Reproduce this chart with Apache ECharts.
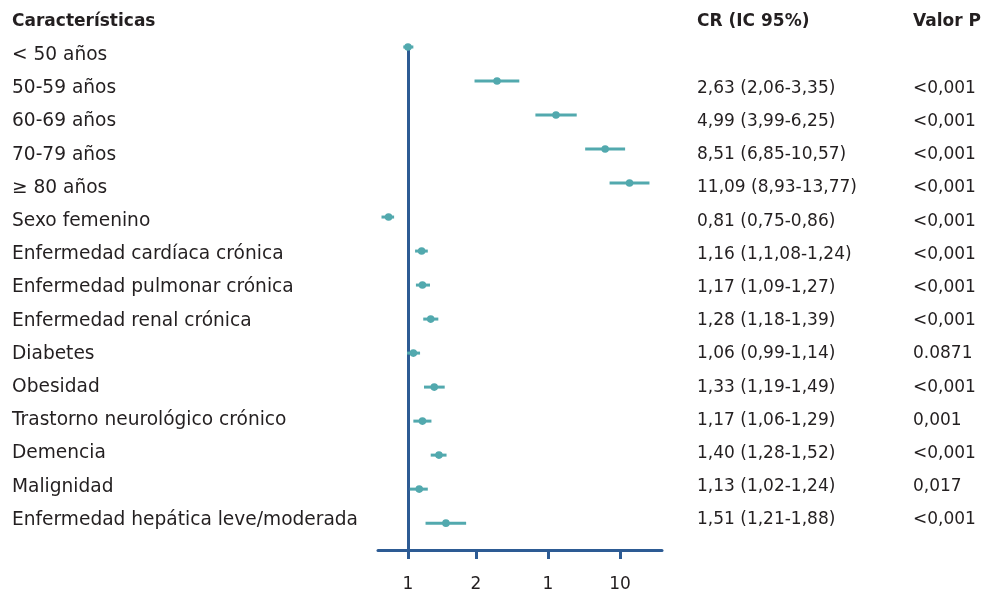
<!DOCTYPE html>
<html><head><meta charset="utf-8">
<script src="https://cdn.jsdelivr.net/npm/echarts@6/dist/echarts.min.js"></script>
<style>html,body{margin:0;padding:0;background:#fff}#c{width:984px;height:589px}</style>
</head><body><div id="c"></div>
<script>
const categories = ['< 50 años','50-59 años','60-69 años','70-79 años','≥ 80 años','Sexo femenino','Enfermedad cardíaca crónica','Enfermedad pulmonar crónica','Enfermedad renal crónica','Diabetes','Obesidad','Trastorno neurológico crónico','Demencia','Malignidad','Enfermedad hepática leve/moderada'];
const cr = [1, 2.63, 4.99, 8.51, 11.09, 0.81, 1.16, 1.17, 1.28, 1.06, 1.33, 1.17, 1.40, 1.13, 1.51];
const ciLow = [0.95, 2.06, 3.99, 6.85, 8.93, 0.75, 1.08, 1.09, 1.18, 0.99, 1.19, 1.06, 1.28, 1.02, 1.21];
const ciHigh = [1.06, 3.35, 6.25, 10.57, 13.77, 0.86, 1.24, 1.27, 1.39, 1.14, 1.49, 1.29, 1.52, 1.24, 1.88];
const crText = ['', '2,63 (2,06-3,35)', '4,99 (3,99-6,25)', '8,51 (6,85-10,57)', '11,09 (8,93-13,77)', '0,81 (0,75-0,86)', '1,16 (1,1,08-1,24)', '1,17 (1,09-1,27)', '1,28 (1,18-1,39)', '1,06 (0,99-1,14)', '1,33 (1,19-1,49)', '1,17 (1,06-1,29)', '1,40 (1,28-1,52)', '1,13 (1,02-1,24)', '1,51 (1,21-1,88)'];
const pText = ['', '<0,001', '<0,001', '<0,001', '<0,001', '<0,001', '<0,001', '<0,001', '<0,001', '0.0871', '<0,001', '0,001', '<0,001', '0,017', '<0,001'];
const headers = ['Características', 'CR (IC 95%)', 'Valor P'];
const tickPositions = [1, 2.09, 4.57, 10];
const tickLabels = ['1', '2', '1', '10'];
const xMin = 0.722, xMax = 15.78;

const FONT = 'DejaVu Sans';
const TXT = '#231f20';
const AXIS = '#2d5b94';
const TEAL = '#52a9ae';

const chart = echarts.init(document.getElementById('c'));
const data = cr.map((v, i) => [v, ciLow[i], ciHigh[i], i]);
const tickLog = tickPositions.map(v => Math.log10(v));

chart.setOption({
  animation: false,
  textStyle: { fontFamily: FONT },
  graphic: [
    { type: 'text', x: 12, y: 22, style: { text: headers[0], font: 'bold 17px "' + FONT + '"', fill: TXT, textVerticalAlign: 'middle' } },
    { type: 'text', x: 697, y: 22, style: { text: headers[1], font: 'bold 17px "' + FONT + '"', fill: TXT, textVerticalAlign: 'middle' } },
    { type: 'text', x: 913, y: 22, style: { text: headers[2], font: 'bold 17px "' + FONT + '"', fill: TXT, textVerticalAlign: 'middle' } }
  ],
  grid: [
    { left: 378, right: 322, top: 47, bottom: 39, containLabel: false, outerBoundsMode: 'none' },
    { left: 378, right: 294, top: 38.6, height: 498, containLabel: false, outerBoundsMode: 'none' }
  ],
  xAxis: [
    { type: 'log', gridIndex: 0, min: xMin, max: xMax, position: 'bottom',
      axisLine: { show: true, onZero: false, lineStyle: { color: AXIS, width: 3 } },
      axisTick: { show: false }, axisLabel: { show: false }, splitLine: { show: false } },
    { type: 'value', gridIndex: 0, min: Math.log10(xMin), max: Math.log10(xMax), position: 'bottom',
      axisLine: { show: false, onZero: false },
      axisTick: { show: true, customValues: tickLog, length: 9, lineStyle: { color: AXIS, width: 3 } },
      axisLabel: { show: true, customValues: tickLog, margin: 26, fontSize: 17, color: TXT, fontFamily: FONT,
        formatter: function (v) { const k = tickLog.findIndex(t => Math.abs(t - v) < 1e-6); return k >= 0 ? tickLabels[k] : ''; } },
      splitLine: { show: false } },
    { type: 'value', gridIndex: 1, show: false }
  ],
  yAxis: [
    { type: 'value', gridIndex: 0, inverse: true, min: 0, max: 14.79, show: false },
    { type: 'category', gridIndex: 1, inverse: true, data: categories, position: 'left',
      axisLine: { show: false }, axisTick: { show: false },
      axisLabel: { margin: 366, align: 'left', fontSize: 18.6, color: TXT, fontFamily: FONT } },
    { type: 'category', gridIndex: 1, inverse: true, data: crText, position: 'right', offset: 0,
      axisLine: { show: false }, axisTick: { show: false },
      axisLabel: { margin: 7, align: 'left', fontSize: 17, color: TXT, fontFamily: FONT } },
    { type: 'category', gridIndex: 1, inverse: true, data: pText, position: 'right', offset: 216,
      axisLine: { show: false }, axisTick: { show: false },
      axisLabel: { margin: 7, align: 'left', fontSize: 17, color: TXT, fontFamily: FONT } }
  ],
  series: [
    {
      type: 'custom', xAxisIndex: 0, yAxisIndex: 0, clip: false, z: 5,
      data: data,
      encode: { x: [0, 1, 2], y: 3 },
      renderItem: function (params, api) {
        const i = api.value(3);
        const p = api.coord([api.value(0), i]);
        const a = api.coord([api.value(1), i]);
        const b = api.coord([api.value(2), i]);
        return { type: 'group', children: [
          { type: 'line', shape: { x1: a[0], y1: a[1], x2: b[0], y2: b[1] }, style: { stroke: TEAL, lineWidth: 3 } },
          { type: 'circle', shape: { cx: p[0], cy: p[1], r: 3.8 }, style: { fill: TEAL } }
        ] };
      },
      markLine: {
        silent: true, symbol: 'none', label: { show: false },
        lineStyle: { color: AXIS, width: 3, type: 'solid' },
        data: [{ xAxis: 1 }]
      }
    }
  ]
});
</script></body></html>
